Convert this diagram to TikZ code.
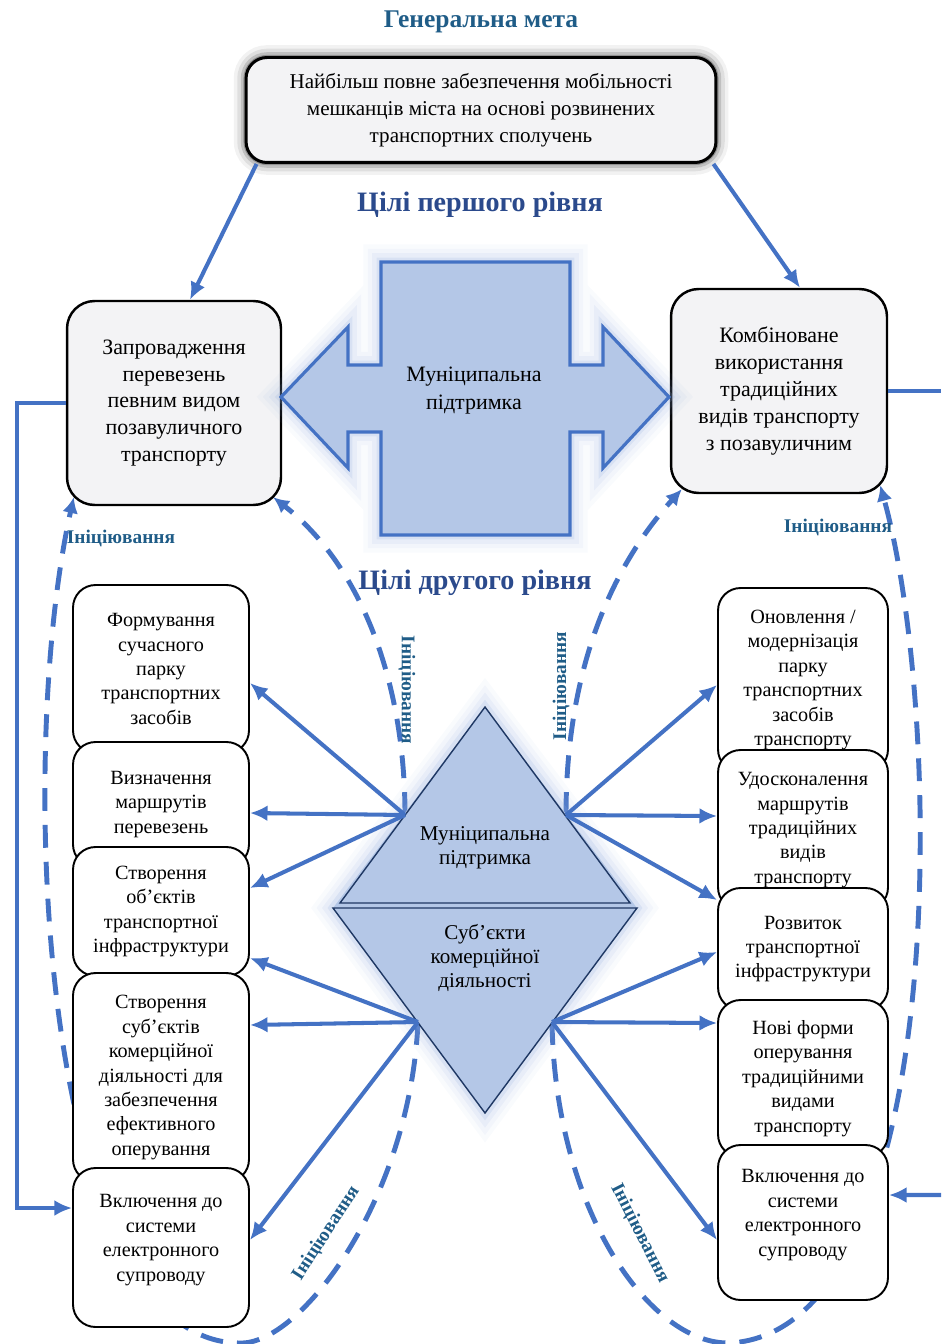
\documentclass[tikz,border=0pt]{standalone}
\usepackage{fontspec}
\setmainfont{Liberation Serif}
\usetikzlibrary{arrows.meta}

\definecolor{linkblue}{HTML}{4472C4}
\definecolor{paleblue}{HTML}{B4C7E7}
\definecolor{glowblue}{HTML}{8FAADC}
\definecolor{edgeblue}{HTML}{1F3864}
\definecolor{tealtext}{HTML}{1F5C87}
\definecolor{navytext}{HTML}{2B4A8C}
\definecolor{boxgray}{HTML}{F3F3F5}

\tikzset{
  goalbox/.style={draw=black, line width=1.7pt, rounded corners=0.42cm, fill=boxgray,
    align=center, minimum width=9.4cm, minimum height=2.1cm,
    font=\fontsize{12}{15.3}\selectfont,
    preaction={draw=black, line width=14pt, opacity=0.05},
    preaction={draw=black, line width=10pt, opacity=0.08},
    preaction={draw=black, line width=6pt, opacity=0.14},
    preaction={draw=black, line width=3pt, opacity=0.25}},
  mainbox/.style={draw=black, line width=1.4pt, rounded corners=0.55cm, fill=boxgray,
    align=center, font=\fontsize{12.5}{15.3}\selectfont},
  leftbox/.style={draw=black, line width=1.1pt, rounded corners=0.45cm, fill=white,
    align=center, minimum width=3.52cm, font=\fontsize{11.5}{13.9}\selectfont},
  rightbox/.style={leftbox, minimum width=3.4cm},
  link/.style={draw=linkblue, line width=2.3pt, -{Latex[length=10pt,width=9pt]}},
  initline/.style={draw=linkblue, line width=2.8pt, dash pattern=on 13pt off 8pt,
    -{Latex[length=9pt,width=9pt]}},
  initlabel/.style={text=tealtext, font=\bfseries\fontsize{11}{13}\selectfont},
  leveltitle/.style={text=navytext, font=\bfseries\fontsize{16}{19}\selectfont},
  glow/.style={preaction={draw=glowblue, line width=20pt, opacity=0.05},
    preaction={draw=glowblue, line width=15pt, opacity=0.07},
    preaction={draw=glowblue, line width=10pt, opacity=0.1},
    preaction={draw=glowblue, line width=5pt, opacity=0.18}},
}

\begin{document}
\begin{tikzpicture}[x=0.02cm, y=-0.02cm]
    \useasboundingbox (0,0) rectangle (941,1344);

    % Points on the diamond edges
    \coordinate (dUL) at (405,815);
    \coordinate (dUR) at (566,815);
    \coordinate (dLL) at (418,1022);
    \coordinate (dLR) at (552,1022);
    % Right margin
    \coordinate (rimTop) at (941,391);
    \coordinate (rimBot) at (941,1195);

    % Titles
    \node[text=tealtext, font=\bfseries\fontsize{14.5}{17}\selectfont] (general) at (481,22) {Генеральна мета};
    \node[leveltitle] (level1) at (480,205) {Цілі першого рівня};
    \node[leveltitle] (level2) at (475,583) {Цілі другого рівня};

    % General goal
    \node[goalbox] (goal) at (481,110) {Найбільш повне забезпечення мобільності\\мешканців міста на основі розвинених\\транспортних сполучень};

    % First level goals
    \node[mainbox, minimum width=4.28cm, minimum height=4.08cm] (L1) at (174,403)
        {Запровадження\\перевезень\\певним видом\\позавуличного\\транспорту};
    \node[mainbox, minimum width=4.32cm, minimum height=4.08cm] (R1) at (779,391)
        {Комбіноване\\використання\\традиційних\\видів транспорту\\з позавуличним};
    \draw[link] ([xshift=0.24cm]goal.south west) -- ([xshift=0.32cm]L1.north);
    \draw[link] ([xshift=-0.08cm]goal.south east) -- ([xshift=0.42cm]R1.north);

    % Initiation (dashed)
    \draw[initline] (dUL) .. controls (405,680) and (360,565) .. ([xshift=-0.18cm,yshift=0.18cm]L1.south east);
    \draw[initline] (dUR) .. controls (566,690) and (600,580) .. ([xshift=0.24cm,yshift=0.1cm]R1.south west);
    \draw[initline] (dLL) .. controls (410,1200) and (300,1345) .. (240,1343)
        .. controls (40,1343) and (15,760) .. ([xshift=0.16cm,yshift=0.18cm]L1.south west);
    \draw[initline] (dLR) .. controls (555,1210) and (650,1345) .. (730,1343)
        .. controls (950,1330) and (945,720) .. ([xshift=-0.16cm,yshift=0.18cm]R1.south east);
    \node[initlabel] (initL) at (121,538) {Ініціювання};
    \node[initlabel] (initR) at (838,527) {Ініціювання};
    \node[initlabel, rotate=-90] (initUL) at (407,690) {Ініціювання};
    \node[initlabel, rotate=90] (initUR) at (561,686) {Ініціювання};
    \node[initlabel, rotate=57] (initLL) at (326,1233) {Ініціювання};
    \node[initlabel, rotate=-63] (initLR) at (640,1233) {Ініціювання};

    % Cross with double arrow
    \draw[glow, draw=linkblue, line width=1.8pt, fill=paleblue]
        (381,262) -- (570,262) -- (570,365) -- (603,365) -- (603,327) -- (669,397)
        -- (603,468) -- (603,432) -- (570,432) -- (570,535) -- (381,535) -- (381,432)
        -- (348,432) -- (348,468) -- (281,397) -- (348,327) -- (348,365) -- (381,365) -- cycle;
    \node[align=center, font=\fontsize{12.5}{15.9}\selectfont] (crossSup) at (474,391) {Муніципальна\\підтримка};

    % Second level goals, left
    \node[leftbox, minimum height=3.36cm] (L2) at (161,669) {Формування\\сучасного\\парку\\транспортних\\засобів};
    \node[leftbox, minimum height=2.5cm] (L3) at (161,804.5) {Визначення\\маршрутів\\перевезень};
    \node[leftbox, minimum height=2.58cm] (L4) at (161,911.5) {Створення\\об’єктів\\транспортної\\інфраструктури};
    \node[leftbox, minimum height=4.18cm] (L5) at (161,1077.5) {Створення\\суб’єктів\\комерційної\\діяльності для\\забезпечення\\ефективного\\оперування};
    \node[leftbox, minimum height=3.18cm, text depth=11pt] (L6) at (161,1247.5) {Включення до\\системи\\електронного\\супроводу};

    % Second level goals, right
    \node[rightbox, minimum height=3.68cm] (R2) at (803,680) {Оновлення /\\модернізація\\парку\\транспортних\\засобів\\транспорту};
    \node[rightbox, minimum height=3.2cm] (R3) at (803,830) {Удосконалення\\маршрутів\\традиційних\\видів\\транспорту};
    \node[rightbox, minimum height=2.44cm] (R4) at (803,949) {Розвиток\\транспортної\\інфраструктури};
    \node[rightbox, minimum height=3.14cm] (R5) at (803,1078.5) {Нові форми\\оперування\\традиційними\\видами\\транспорту};
    \node[rightbox, minimum height=3.1cm, text depth=11pt] (R6) at (803,1222.5) {Включення до\\системи\\електронного\\супроводу};

    % Diamond
    \fill[glow, paleblue] (485,707) -- (637,908) -- (485,1113) -- (333,908) -- cycle;
    \draw[edgeblue, line width=0.8pt, fill=paleblue] (485,707) -- (630,903) -- (340,903) -- cycle;
    \draw[edgeblue, line width=0.8pt, fill=paleblue] (333,908) -- (637,908) -- (485,1113) -- cycle;
    \node[align=center, font=\fontsize{12}{13.6}\selectfont] (munSup) at (485,848) {Муніципальна\\підтримка};
    \node[align=center, font=\fontsize{12}{13.6}\selectfont] (agents) at (485,958) {Суб’єкти\\комерційної\\діяльності};

    % Arrows out of the diamond
    \foreach \b/\s in {L2/-0.28, L3/-0.17, L4/0.47}
        \draw[link] (dUL) -- ([yshift=\s cm]\b.east);
    \foreach \b/\s in {L4/-0.93, L5/1.05, L6/0.15}
        \draw[link] (dLL) -- ([yshift=\s cm]\b.east);
    \foreach \b/\s in {R2/-0.1, R3/0.28, R4/0.98}
        \draw[link] (dUR) -- ([yshift=\s cm]\b.west);
    \foreach \b/\s in {R4/-0.06, R5/1.11, R6/-0.35}
        \draw[link] (dLR) -- ([yshift=\s cm]\b.west);

    % Side links
    \draw[link] (L1.west) -- ++(-49,0) |- ([yshift=0.79cm]L6.west);
    \draw[link, -] (R1.east) -- (rimTop);
    \draw[link] (rimBot) -- ([yshift=0.55cm]R6.east);
\end{tikzpicture}
\end{document}
